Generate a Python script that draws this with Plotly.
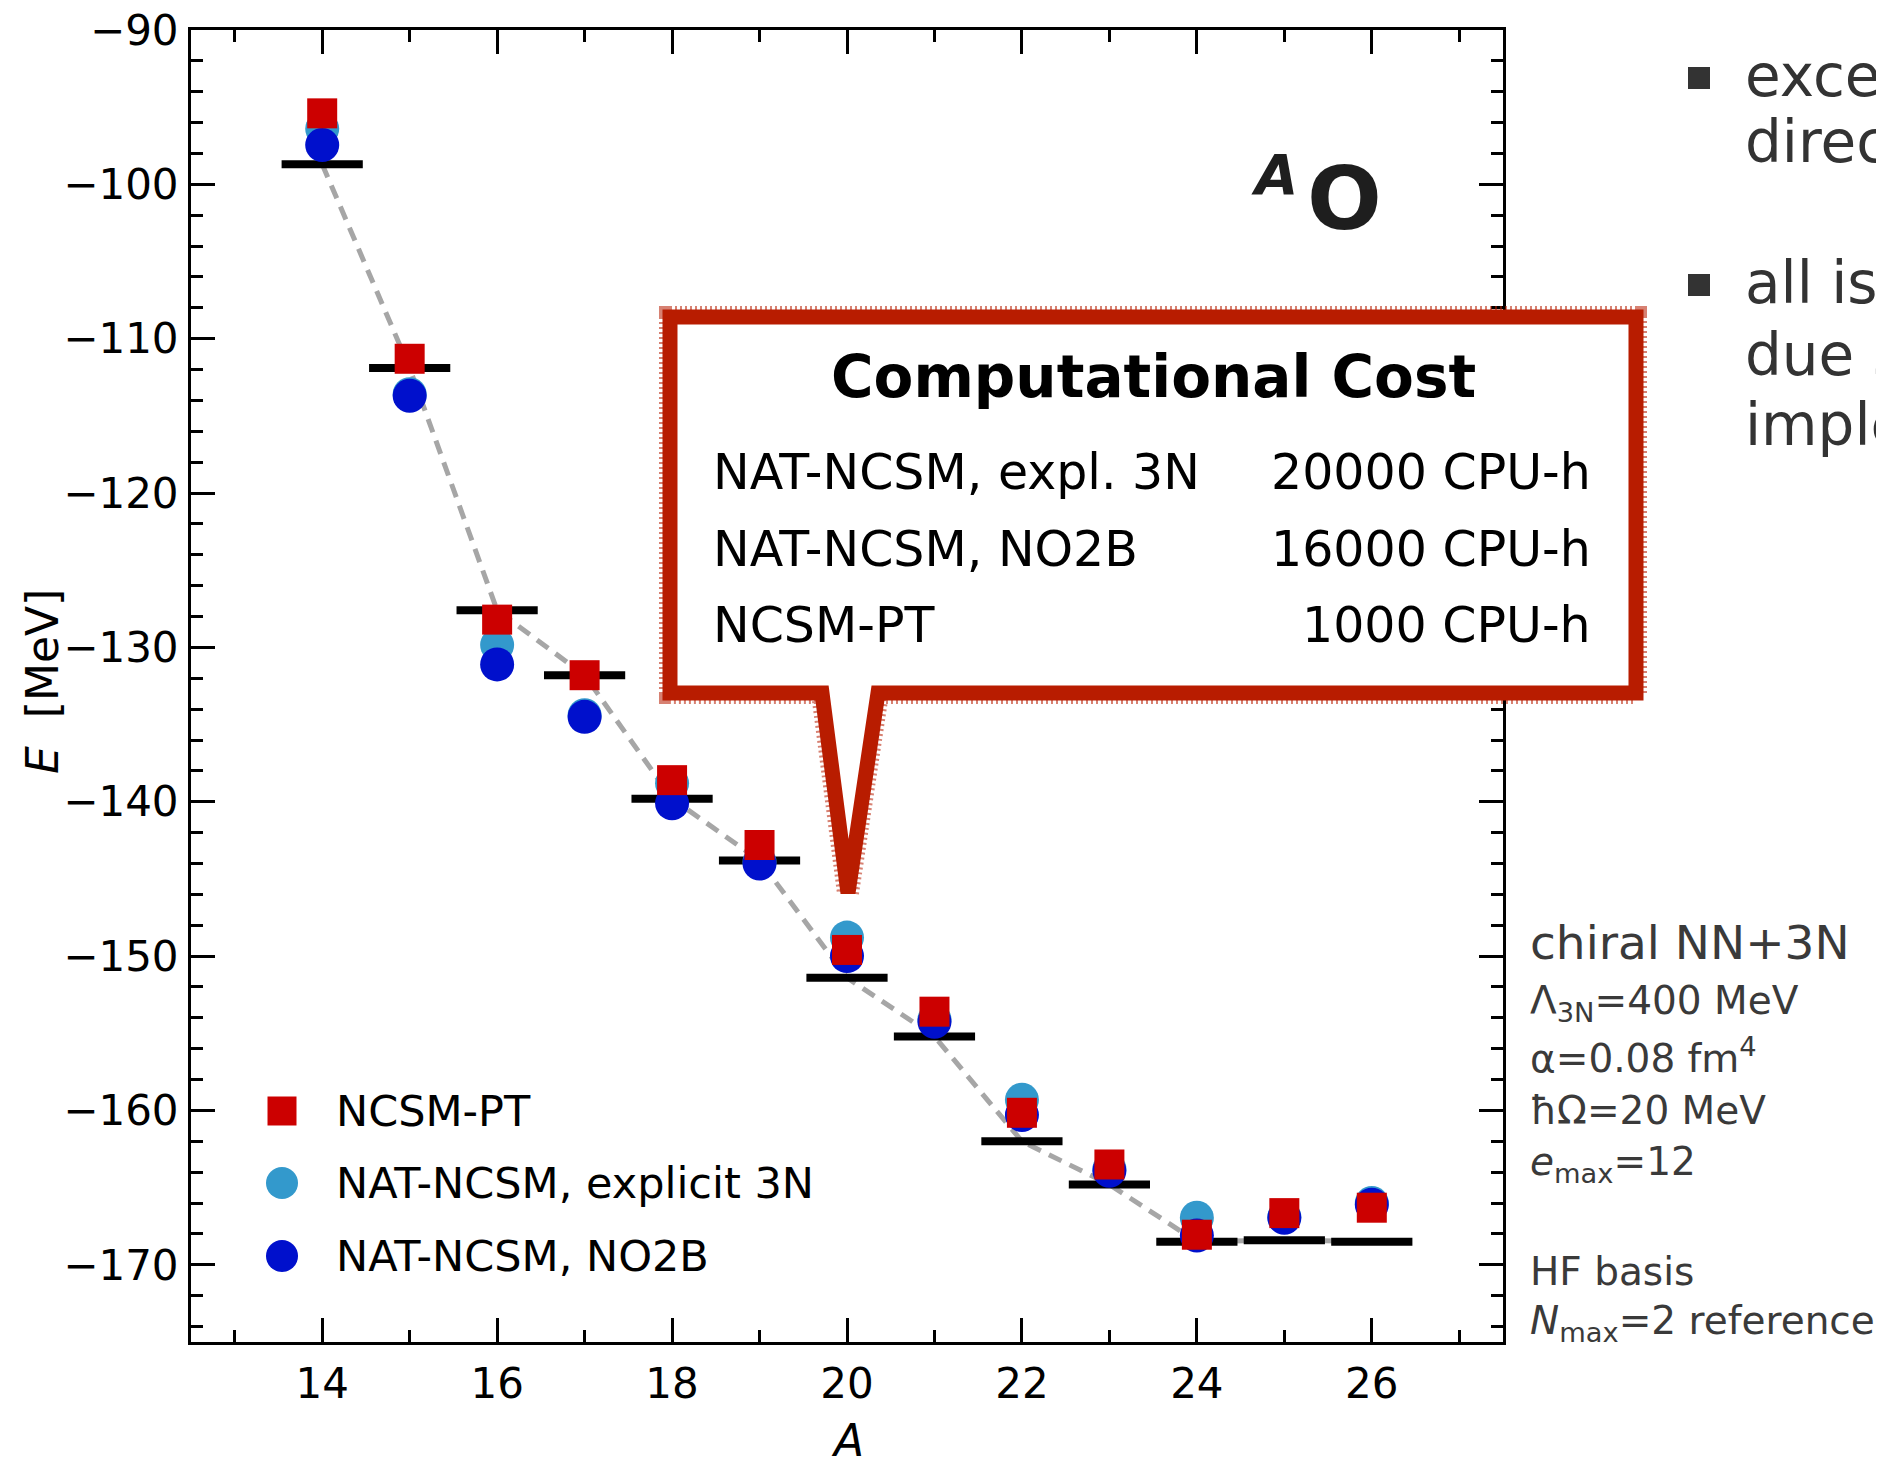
import plotly.graph_objects as go

# ---------------- data ----------------
A = [14, 15, 16, 17, 18, 19, 20, 21, 22, 23, 24, 25, 26]
E_exp = [-98.7, -111.9, -127.6, -131.8, -139.8, -143.8, -151.4, -155.2, -162.0, -164.8, -168.5, -168.4, -168.5]
E_ncsm_pt = [-95.4, -111.3, -128.2, -131.8, -138.6, -142.8, -149.6, -153.6, -160.15, -163.5, -168.05, -166.65, -166.3]
E_nat_3n = [-96.4, -113.6, -129.85, -134.4, -138.8, -143.9, -148.8, -154.1, -159.3, -163.8, -166.95, -166.9, -166.0]
E_nat_no2b = [-97.45, -113.7, -131.1, -134.5, -140.1, -144.0, -150.0, -154.25, -160.3, -163.9, -168.1, -166.95, -166.1]

legend_names = ["NCSM-PT", "NAT-NCSM, explicit 3N", "NAT-NCSM, NO2B"]
cost_methods = ["NAT-NCSM, expl. 3N", "NAT-NCSM, NO2B", "NCSM-PT"]
cost_values = ["20000 CPU-h", "16000 CPU-h", "1000 CPU-h"]
param_lines = ["Λ<sub>3N</sub>=400 MeV", "α=0.08 fm<sup>4</sup>", "ħΩ=20 MeV", "<i>e</i><sub>max</sub>=12"]

# ---------------- styles / layout ----------------
OFF = 8                      # page body margin
W, H = 1884 - OFF, 1468 - OFF
L, R, T, B = 191, 1503, 30, 1342   # plot area in page pixels
FONT = "DejaVu Sans"
RED = "#cc0000"
LBLUE = "#3399cc"
DBLUE = "#0010cc"
BOX = "#b81c00"
GREY_TXT = "#3a3a3a"


def px(x, y):
    return (x - L) / (R - L), (B - y) / (B - T)


fig = go.Figure()

fig.add_trace(go.Scatter(x=A, y=E_exp, mode="lines",
                         line=dict(color="#a6a6a6", width=5, dash="14px,9px"),
                         hoverinfo="skip"))
fig.add_trace(go.Scatter(x=A, y=E_exp, mode="markers",
                         marker=dict(symbol="line-ew", size=58, color="black",
                                     line=dict(color="black", width=8))))
fig.add_trace(go.Scatter(x=A, y=E_nat_3n, mode="markers", name=legend_names[1],
                         marker=dict(symbol="circle", size=34, color=LBLUE, line=dict(width=0))))
fig.add_trace(go.Scatter(x=A, y=E_nat_no2b, mode="markers", name=legend_names[2],
                         marker=dict(symbol="circle", size=34, color=DBLUE, line=dict(width=0))))
fig.add_trace(go.Scatter(x=A, y=E_ncsm_pt, mode="markers", name=legend_names[0],
                         marker=dict(symbol="square", size=30, color=RED, line=dict(width=0))))

axis_common = dict(ticks="inside", ticklen=24, tickwidth=3, tickcolor="black",
                   showline=True, linewidth=3, linecolor="black", mirror="allticks",
                   showgrid=False, zeroline=False, ticklabeloverflow="allow",
                   automargin=False,
                   tickfont=dict(family=FONT, size=42, color="black"))

fig.update_xaxes(range=[12.5, 27.5], tick0=0, dtick=2,
                 minor=dict(ticks="inside", ticklen=12, tickwidth=3, tickcolor="black",
                            dtick=1, tick0=0, showgrid=False),
                 ticklabelstandoff=3, **axis_common)
fig.update_yaxes(range=[-175, -90], tick0=0, dtick=10,
                 minor=dict(ticks="inside", ticklen=12, tickwidth=3, tickcolor="black",
                            dtick=2, tick0=0, showgrid=False),
                 ticklabelstandoff=1, **axis_common)

shapes = []
annotations = []


def text(x, y, s, size, color="black", xanchor="left", yanchor="middle", textangle=0):
    xp, yp = px(x, y)
    annotations.append(dict(x=xp, y=yp, xref="paper", yref="paper", text=s, showarrow=False,
                            xanchor=xanchor, yanchor=yanchor, textangle=textangle,
                            font=dict(family=FONT, size=size, color=color)))


# axis titles
text(847, 1440, "<i>A</i>", 44, xanchor="center")
text(42, 682, "<i>E</i>\u00a0\u00a0[MeV]", 44, xanchor="center", textangle=-90)

# nucleus label
text(1300, 175, "<b><i>A</i></b>", 56, color="#1e1e1e", xanchor="right")
text(1305, 198, "<b>O</b>", 88, color="#1e1e1e", xanchor="left")

# callout box with pointer
bl, bt, br, bb = 670, 317, 1636, 693
pl, pr, tx, ty = 822, 878, 848, 893
pts = [(bl, bt), (br, bt), (br, bb), (pr, bb), (tx, ty), (pl, bb), (bl, bb)]
path = "M " + " L ".join(f"{px(x, y)[0]:.5f},{px(x, y)[1]:.5f}" for x, y in pts) + " Z"
shapes.append(dict(type="path", path=path, xref="paper", yref="paper",
                   fillcolor="rgba(0,0,0,0)", line=dict(color=BOX, width=22, dash="2px,3px"),
                   opacity=0.55, layer="above"))
shapes.append(dict(type="path", path=path, xref="paper", yref="paper",
                   fillcolor="white", line=dict(color=BOX, width=15), layer="above"))

text(1153, 377, "<b>Computational Cost</b>", 58, xanchor="center")
row_y = [472, 549, 625]
for yy, m, v in zip(row_y, cost_methods, cost_values):
    text(711, yy, m, 49, xanchor="left")
    text(1593, yy, v, 49, xanchor="right")

# legend (manual)
leg_y = [1111, 1183, 1256]
leg_colors = [RED, LBLUE, DBLUE]
for i, (yy, c, n) in enumerate(zip(leg_y, leg_colors, legend_names)):
    s = 14.5 if i == 0 else 16
    x0, y0 = px(282 - s, yy + s)
    x1, y1 = px(282 + s, yy - s)
    shapes.append(dict(type="rect" if i == 0 else "circle", xref="paper", yref="paper",
                       x0=x0, y0=y0, x1=x1, y1=y1, fillcolor=c, line=dict(width=0)))
    text(334, yy, n, 43)

# parameter text
text(1528, 943, "chiral NN+3N", 47, color=GREY_TXT)
for yy, s in zip([1003, 1056, 1110, 1164], param_lines):
    text(1528, yy, s, 39, color=GREY_TXT)
text(1528, 1271, "HF basis", 39, color=GREY_TXT)
text(1528, 1323, "<i>N</i><sub>max</sub>=2 reference", 39, color=GREY_TXT)

# bullet text on the right (cut by the page edge, as on the original slide)
bullet_lines = [(76, "excellent agreement with", True), (142, "direct NAT-NCSM", False),
                (283, "all isotopes accessible", True), (355, "due simpler", False),
                (425, "implementation", False)]
for yy, s, bullet in bullet_lines:
    text(1743, yy, s, 58, color="#333333")
    if bullet:
        x0, y0 = px(1688, yy + 13)
        x1, y1 = px(1710, yy - 9)
        shapes.append(dict(type="rect", xref="paper", yref="paper", x0=x0, y0=y0, x1=x1, y1=y1,
                           fillcolor="#333333", line=dict(width=0)))

fig.update_layout(width=W, height=H,
                  margin=dict(l=L - OFF, r=W - (R - OFF), t=T - OFF, b=H - (B - OFF), pad=0),
                  plot_bgcolor="white", paper_bgcolor="white",
                  showlegend=False, shapes=shapes, annotations=annotations,
                  font=dict(family=FONT))

fig.write_html("out.html")
